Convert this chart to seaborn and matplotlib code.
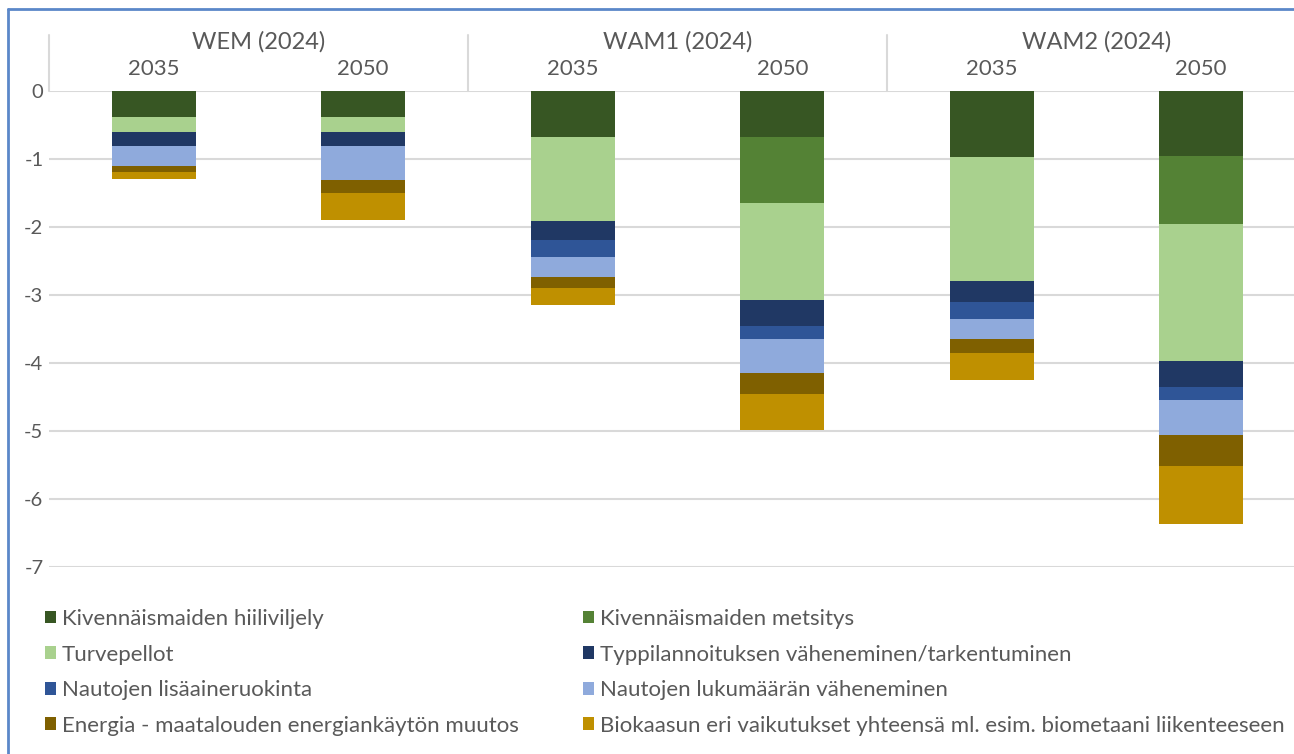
"""
Maatalouden päästövähennystoimet skenaarioittain (pinottu pylväskaavio)
"""
import numpy as np
import pandas as pd
import matplotlib
matplotlib.use("Agg")
import matplotlib.pyplot as plt
from matplotlib.lines import Line2D
from matplotlib.patches import Patch
import seaborn as sns

# Data (Mt CO2-ekv.)
scenarios = ["WEM (2024)", "WAM1 (2024)", "WAM2 (2024)"]
years = ["2035", "2050"]
categories = ["WEM 2035", "WEM 2050", "WAM1 2035", "WAM1 2050", "WAM2 2035", "WAM2 2050"]

series_names = [
    "Kivennäismaiden hiiliviljely",
    "Kivennäismaiden metsitys",
    "Turvepellot",
    "Typpilannoituksen väheneminen/tarkentuminen",
    "Nautojen lisäaineruokinta",
    "Nautojen lukumäärän väheneminen",
    "Energia - maatalouden energiankäytön muutos",
    "Biokaasun eri vaikutukset yhteensä ml. esim. biometaani liikenteeseen",
]
hiiliviljely = [-0.38, -0.38, -0.68, -0.67, -0.97, -0.96]
metsitys = [0.0, 0.0, 0.0, -0.98, 0.0, -1.00]
turvepellot = [-0.22, -0.22, -1.23, -1.42, -1.83, -2.01]
typpi = [-0.21, -0.21, -0.28, -0.39, -0.30, -0.39]
lisaaine = [0.0, 0.0, -0.25, -0.19, -0.25, -0.19]
lukumaara = [-0.29, -0.50, -0.30, -0.50, -0.30, -0.51]
energia = [-0.09, -0.19, -0.15, -0.30, -0.20, -0.45]
biokaasu = [-0.10, -0.40, -0.25, -0.53, -0.40, -0.86]

colors = ["#375623", "#548235", "#A9D18E", "#203864",
          "#2F5597", "#8FAADC", "#7F6000", "#BF9000"]

y_ticks = [0, -1, -2, -3, -4, -5, -6, -7]
y_tick_labels = ["0", "-1", "-2", "-3", "-4", "-5", "-6", "-7"]

TEXT = "#595959"
GRID = "#D9D9D9"

sns.set_theme(style="white")
plt.rcParams["font.family"] = ["Lato", "DejaVu Sans"]

values = [hiiliviljely, metsitys, turvepellot, typpi, lisaaine, lukumaara, energia, biokaasu]
df = pd.DataFrame(dict(zip(series_names, values)), index=categories)
cum = df.cumsum(axis=1)

W, H = 1294, 754
fig = plt.figure(figsize=(W / 100, H / 100), dpi=100)
ax = fig.add_axes([49 / W, (H - 567) / H, (1306 - 49) / W, (567 - 91) / H])

# stacked bars: deepest cumulative first, shallower layers drawn on top
for name, col in reversed(list(zip(series_names, colors))):
    layer = pd.DataFrame({"cat": categories, "val": cum[name].values})
    sns.barplot(data=layer, x="cat", y="val", color=col, width=0.4,
                saturation=1, ax=ax, order=categories, linewidth=0, zorder=3)

ax.set_ylim(-7, 0)
ax.set_xlim(-0.5, len(categories) - 0.5)
ax.set_yticks(y_ticks)
ax.set_yticklabels(y_tick_labels, fontsize=14.5, color=TEXT)
ax.tick_params(axis="y", length=0, pad=4)
ax.set_xticks([])
ax.set_xlabel("")
ax.set_ylabel("")
ax.grid(axis="y", color=GRID, linewidth=1.5, zorder=0)
ax.set_axisbelow(True)
for s in ax.spines.values():
    s.set_visible(False)

# header with scenario and year labels
trans = ax.get_xaxis_transform()
for i, cat in enumerate(categories):
    ax.text(i, 1.046, years[i % 2], transform=trans, ha="center", va="center",
            fontsize=16, color=TEXT)
for g, scen in enumerate(scenarios):
    ax.text(2 * g + 0.5, 1.103, scen, transform=trans, ha="center", va="center",
            fontsize=17, color=TEXT)
    ax.plot([2 * g - 0.5, 2 * g - 0.5], [1.0, 1.118], transform=trans,
            color=GRID, linewidth=1.5, clip_on=False)

# legend in two columns, row-wise order
handles = [Patch(facecolor=c, edgecolor="none") for c in colors]
leg_kw = dict(frameon=False, fontsize=16, handlelength=0.5, handleheight=0.5,
              handletextpad=0.25, labelspacing=0.7, borderpad=0, borderaxespad=0,
              labelcolor=TEXT, loc="upper left")
fig.legend(handles[0::2], series_names[0::2],
           bbox_to_anchor=(45 / W, (H - 609) / H), **leg_kw)
fig.legend(handles[1::2], series_names[1::2],
           bbox_to_anchor=(583 / W, (H - 609) / H), **leg_kw)

# blue frame around the chart area
frame = "#5B87C9"
fig.add_artist(Line2D([8 / W, 8 / W], [0, (H - 9) / H], color=frame, linewidth=2))
fig.add_artist(Line2D([8 / W, 1], [(H - 9) / H, (H - 9) / H], color=frame, linewidth=2))

fig.savefig("out.png", dpi=100)
